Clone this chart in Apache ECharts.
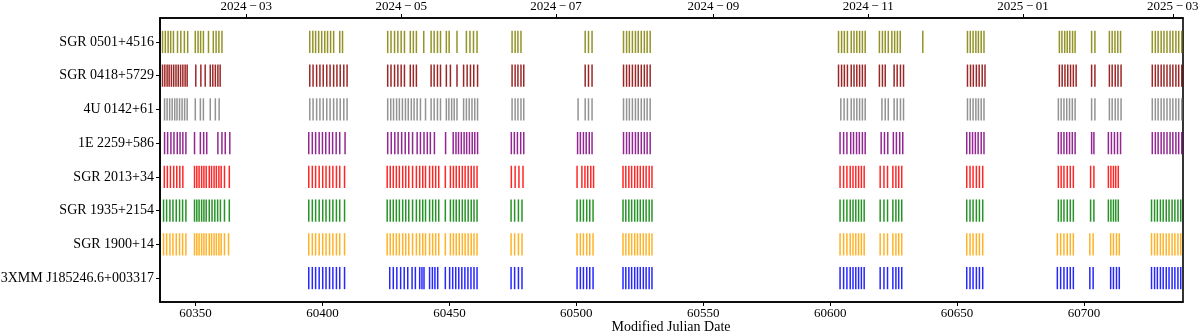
<!DOCTYPE html>
<html>
<head>
<meta charset="utf-8">
<script src="https://cdn.jsdelivr.net/npm/echarts@6/dist/echarts.min.js"></script>
<style>
  html, body { margin: 0; padding: 0; background: #fff; }
  #chart { width: 1200px; height: 334px; }
</style>
</head>
<body>
<div id="chart"></div>
<script>
// sources, top row first
const sources = ["SGR 0501+4516", "SGR 0418+5729", "4U 0142+61", "1E 2259+586",
  "SGR 2013+34", "SGR 1935+2154", "SGR 1900+14", "3XMM J185246.6+003317"];

const sgr0501 = [60337.0, 60338.1, 60339.2, 60340.2, 60341.3, 60342.9, 60344.2, 60345.6, 60346.9, 60349.9, 60351.0, 60352.0, 60353.1, 60355.1, 60357.0, 60358.1, 60359.2, 60360.4,
  60395.0, 60396.2, 60397.3, 60398.5, 60399.7, 60400.9, 60402.0, 60403.2, 60404.4, 60406.8, 60407.9,
  60425.7, 60427.0, 60428.4, 60429.7, 60431.0, 60432.3, 60434.6, 60435.8, 60437.0, 60439.9, 60442.8, 60444.0, 60445.3, 60446.5, 60448.8, 60449.9, 60453.0, 60456.7, 60458.1, 60459.5, 60460.9,
  60474.7, 60475.9, 60477.0, 60478.2, 60503.5, 60504.8, 60506.2,
  60518.6, 60519.8, 60520.9, 60522.1, 60523.3, 60524.4, 60525.6, 60526.8, 60527.9, 60529.1,
  60603.3, 60604.5, 60605.6, 60606.8, 60608.3, 60609.4, 60610.5, 60611.6, 60612.7, 60613.8, 60619.4, 60620.6, 60621.7, 60622.9, 60624.3, 60625.4, 60626.5, 60627.6, 60636.5,
  60654.1, 60655.2, 60656.3, 60657.4, 60658.4, 60659.5, 60660.6,
  60690.3, 60691.3, 60692.4, 60693.4, 60694.4, 60695.5, 60696.5, 60703.0, 60704.3, 60710.0, 60711.1, 60712.2, 60713.3, 60714.4,
  60726.9, 60728.1, 60729.2, 60730.4, 60731.5, 60732.7, 60733.9, 60735.0, 60736.2, 60737.3, 60738.5];

const sgr0418 = [60337.0, 60337.9, 60338.8, 60339.6, 60340.5, 60341.4, 60342.3, 60343.2, 60344.1, 60345.0, 60345.9, 60346.7, 60350.1, 60352.1, 60353.8, 60355.8, 60356.8, 60357.8, 60358.8, 60359.7,
  60395.0, 60396.3, 60397.7, 60399.0, 60400.3, 60401.7, 60403.0, 60404.4, 60405.7, 60407.0, 60408.4, 60409.7,
  60425.7, 60427.0, 60428.4, 60429.7, 60431.0, 60432.3, 60434.6, 60435.8, 60437.0, 60442.8, 60444.0, 60445.3, 60446.5, 60448.8, 60450.4, 60453.0, 60455.6, 60457.0, 60458.3, 60459.6, 60461.1,
  60474.7, 60475.9, 60477.0, 60478.2, 60479.3, 60503.5, 60504.8, 60506.2,
  60518.6, 60519.8, 60520.9, 60522.1, 60523.3, 60524.4, 60525.6, 60526.8, 60527.9, 60529.1,
  60603.3, 60604.5, 60605.6, 60606.8, 60608.3, 60609.4, 60610.5, 60611.6, 60612.7, 60613.8, 60619.4, 60620.6, 60621.7, 60625.2, 60626.4, 60627.7, 60628.9,
  60654.1, 60655.3, 60656.4, 60657.6, 60658.7, 60659.9, 60661.0,
  60690.3, 60691.4, 60692.5, 60693.6, 60694.7, 60695.8, 60696.9, 60703.0, 60704.3, 60710.0, 60711.1, 60712.3, 60713.4, 60714.6,
  60726.9, 60728.1, 60729.2, 60730.4, 60731.5, 60732.7, 60733.9, 60735.0, 60736.2, 60737.3, 60738.5];

const u0142 = [60337.8, 60338.8, 60339.8, 60340.8, 60341.8, 60342.7, 60343.7, 60344.7, 60345.7, 60346.7, 60349.9, 60351.9, 60353.1, 60355.8, 60357.8, 60359.3,
  60395.0, 60396.3, 60397.7, 60399.0, 60400.3, 60401.7, 60403.0, 60404.4, 60405.7, 60407.0, 60408.4, 60409.7,
  60425.7, 60426.9, 60428.0, 60429.2, 60430.3, 60431.5, 60432.7, 60433.8, 60435.0, 60436.1, 60437.3, 60438.6, 60440.6, 60442.8, 60444.0, 60445.3, 60446.5,
  60448.8, 60449.8, 60450.9, 60451.9, 60453.0, 60455.6, 60456.7, 60457.8, 60458.9, 60460.0, 60461.1,
  60474.7, 60475.9, 60477.0, 60478.2, 60479.3, 60500.7, 60503.5, 60504.8, 60506.2,
  60518.6, 60519.8, 60520.9, 60522.1, 60523.3, 60524.4, 60525.6, 60526.8, 60527.9, 60529.1,
  60604.2, 60605.5, 60606.8, 60608.3, 60609.4, 60610.5, 60611.6, 60612.7, 60613.8, 60620.4, 60621.7, 60622.9, 60625.2, 60626.4, 60627.7, 60628.9,
  60654.1, 60655.2, 60656.3, 60657.4, 60658.4, 60659.5, 60660.6,
  60689.9, 60691.0, 60692.1, 60693.2, 60694.3, 60695.4, 60696.5, 60703.0, 60704.3, 60710.0, 60711.1, 60712.3, 60713.4, 60714.6,
  60726.9, 60728.1, 60729.2, 60730.4, 60731.5, 60732.7, 60733.9, 60735.0, 60736.2, 60737.3, 60738.5];

const e2259 = [60337.8, 60339.0, 60340.3, 60341.5, 60342.8, 60343.9, 60345.0, 60346.2, 60349.6, 60351.9, 60353.2, 60354.4, 60358.8, 60360.4, 60361.7, 60363.5,
  60394.6, 60396.0, 60397.3, 60398.7, 60400.0, 60401.3, 60402.7, 60404.0, 60405.4, 60406.8, 60408.9,
  60425.7, 60427.1, 60428.5, 60429.8, 60431.2, 60432.6, 60434.0, 60435.5, 60437.3, 60438.6, 60440.0, 60441.3, 60442.5, 60444.1, 60448.5,
  60451.5, 60452.6, 60453.6, 60454.7, 60455.8, 60456.8, 60457.9, 60459.0, 60460.0, 60461.1,
  60474.4, 60475.6, 60476.8, 60478.1, 60479.3, 60500.5, 60501.6, 60502.8, 60503.9, 60505.1, 60506.2,
  60518.6, 60519.8, 60520.9, 60522.1, 60523.3, 60524.4, 60525.6, 60526.8, 60527.9, 60529.1,
  60603.9, 60605.3, 60606.6, 60608.1, 60609.2, 60610.4, 60611.5, 60612.7, 60613.8, 60620.1, 60621.4, 60622.7, 60624.9, 60626.1, 60627.4, 60628.6,
  60653.8, 60655.0, 60656.1, 60657.2, 60658.3, 60659.5, 60660.6,
  60689.9, 60691.0, 60692.1, 60693.2, 60694.3, 60695.4, 60696.5, 60703.0, 60703.9, 60709.6, 60710.8, 60712.0, 60713.2, 60714.4,
  60726.9, 60728.1, 60729.2, 60730.4, 60731.5, 60732.7, 60733.9, 60735.0, 60736.2, 60737.3, 60738.5];

const sgr2013 = [60337.7, 60338.9, 60340.1, 60341.4, 60342.6, 60343.8, 60345.0, 60349.6, 60350.5, 60351.4, 60352.4, 60353.3, 60354.2,
  60355.4, 60356.3, 60357.3, 60358.2, 60359.2, 60360.1, 60361.4, 60363.3,
  60394.6, 60396.0, 60397.3, 60398.7, 60400.1, 60401.4, 60402.8, 60404.1, 60405.5, 60406.8, 60408.7,
  60425.5, 60426.7, 60427.9, 60429.1, 60430.3, 60431.6, 60432.8, 60434.0, 60435.5, 60437.0, 60438.3, 60439.5, 60440.6, 60442.2, 60443.4, 60444.6, 60445.8, 60448.4,
  60450.4, 60451.6, 60452.7, 60453.9, 60455.1, 60456.2, 60457.4, 60458.6, 60459.7, 60460.9,
  60474.4, 60475.9, 60477.4, 60479.0, 60500.3, 60502.2, 60503.4, 60504.5, 60505.7, 60506.8,
  60518.4, 60519.5, 60520.7, 60521.8, 60523.0, 60524.1, 60525.2, 60526.4, 60527.5, 60528.7, 60529.8,
  60603.9, 60605.3, 60606.6, 60607.9, 60609.0, 60610.1, 60611.2, 60612.3, 60613.4, 60619.7, 60621.2, 60622.6, 60624.7, 60625.9, 60627.0, 60628.2,
  60653.8, 60655.1, 60656.3, 60657.6, 60658.8, 60660.1,
  60689.9, 60691.0, 60692.1, 60693.4, 60694.6, 60695.8, 60702.6, 60703.9, 60709.6, 60710.6, 60711.6, 60712.5, 60713.5];

const sgr1935 = [60337.4, 60338.6, 60339.9, 60341.1, 60342.4, 60343.7, 60344.9, 60346.2, 60349.6, 60350.5, 60351.4, 60352.4, 60353.3, 60354.2,
  60355.4, 60356.5, 60357.6, 60358.7, 60359.8, 60361.4, 60363.3,
  60394.6, 60396.0, 60397.3, 60398.7, 60400.1, 60401.4, 60402.8, 60404.1, 60405.5, 60406.8, 60408.7,
  60425.5, 60426.7, 60427.9, 60429.1, 60430.3, 60431.6, 60432.8, 60434.0, 60435.5, 60437.0, 60438.3, 60439.5, 60440.6, 60442.2, 60443.4, 60444.6, 60445.8, 60448.4,
  60450.4, 60451.6, 60452.7, 60453.9, 60455.1, 60456.2, 60457.4, 60458.6, 60459.7, 60460.9,
  60474.3, 60475.7, 60477.2, 60478.6, 60500.3, 60501.6, 60502.8, 60504.1, 60505.3, 60506.6,
  60518.4, 60519.5, 60520.7, 60521.8, 60523.0, 60524.1, 60525.2, 60526.4, 60527.5, 60528.7, 60529.8,
  60603.9, 60605.3, 60606.6, 60607.9, 60609.0, 60610.1, 60611.2, 60612.3, 60613.4, 60619.7, 60621.2, 60622.6, 60624.7, 60625.9, 60627.0, 60628.2,
  60653.8, 60655.1, 60656.3, 60657.6, 60658.8, 60660.1,
  60689.9, 60691.0, 60692.1, 60693.4, 60694.6, 60695.8, 60702.6, 60703.9, 60709.6, 60710.6, 60711.6, 60712.5, 60713.5,
  60726.6, 60727.8, 60728.9, 60730.1, 60731.2, 60732.4, 60733.5, 60734.7, 60735.8, 60737.0, 60738.1];

const sgr1900 = [60337.4, 60338.6, 60339.9, 60341.1, 60342.4, 60343.7, 60344.9, 60346.2, 60349.6, 60350.5, 60351.4, 60352.4, 60353.3, 60354.2,
  60355.4, 60356.3, 60357.3, 60358.2, 60359.2, 60360.1, 60361.4, 60363.0,
  60394.6, 60396.0, 60397.3, 60398.7, 60400.1, 60401.4, 60402.8, 60404.1, 60405.5, 60406.8, 60408.7,
  60425.5, 60426.7, 60427.9, 60429.1, 60430.3, 60431.6, 60432.8, 60434.0, 60435.5, 60437.0, 60438.3, 60439.5, 60440.6, 60442.2, 60443.4, 60444.6, 60445.8, 60448.4,
  60450.4, 60451.6, 60452.7, 60453.9, 60455.1, 60456.2, 60457.4, 60458.6, 60459.7, 60460.9,
  60474.3, 60475.7, 60477.2, 60478.6, 60500.3, 60501.6, 60502.8, 60504.1, 60505.3, 60506.6,
  60518.4, 60519.5, 60520.7, 60521.8, 60523.0, 60524.1, 60525.2, 60526.4, 60527.5, 60528.7, 60529.8,
  60603.9, 60605.3, 60606.6, 60607.9, 60609.0, 60610.1, 60611.2, 60612.3, 60613.4, 60619.7, 60621.2, 60622.6, 60624.7, 60625.9, 60627.0, 60628.2,
  60653.8, 60655.1, 60656.3, 60657.6, 60658.8, 60660.1,
  60689.5, 60690.8, 60692.1, 60693.4, 60694.6, 60695.8, 60702.3, 60703.6, 60710.5, 60711.6, 60712.8, 60713.9,
  60726.6, 60727.8, 60728.9, 60730.1, 60731.2, 60732.4, 60733.5, 60734.7, 60735.8, 60737.0, 60738.1];

const xmm1852 = [60394.6, 60396.0, 60397.3, 60398.7, 60400.1, 60401.4, 60402.8, 60404.1, 60405.5, 60406.8, 60408.7,
  60426.5, 60427.9, 60429.3, 60430.8, 60432.2, 60433.6, 60435.3, 60436.6, 60438.3, 60439.2, 60440.0, 60442.2, 60443.3, 60444.3, 60445.4, 60448.4,
  60450.1, 60451.3, 60452.5, 60453.7, 60454.9, 60456.1, 60457.3, 60458.5, 60459.7, 60460.9,
  60474.3, 60475.7, 60477.2, 60478.6, 60500.3, 60501.6, 60502.8, 60504.1, 60505.3, 60506.6,
  60518.4, 60519.5, 60520.7, 60521.8, 60523.0, 60524.1, 60525.2, 60526.4, 60527.5, 60528.7, 60529.8,
  60603.9, 60605.3, 60606.6, 60607.9, 60609.0, 60610.1, 60611.2, 60612.3, 60613.4, 60619.7, 60621.2, 60622.6, 60624.7, 60625.9, 60627.0, 60628.2,
  60653.8, 60655.1, 60656.3, 60657.6, 60658.8, 60660.1,
  60689.5, 60690.8, 60692.1, 60693.4, 60694.6, 60695.8, 60702.3, 60703.6, 60710.5, 60711.6, 60712.8, 60713.9,
  60726.6, 60727.8, 60728.9, 60730.1, 60731.2, 60732.4, 60733.5, 60734.7, 60735.8, 60737.0, 60738.1];

// axis ticks
const mjdTicks = [60350, 60400, 60450, 60500, 60550, 60600, 60650, 60700];
const dateTicks = [60370, 60431, 60492, 60554, 60615, 60676, 60735];
const dateLabels = ["2024\u2009\u2212\u200903", "2024\u2009\u2212\u200905", "2024\u2009\u2212\u200907", "2024\u2009\u2212\u200909",
  "2024\u2009\u2212\u200911", "2025\u2009\u2212\u200901", "2025\u2009\u2212\u200903"];

const allTimes = [sgr0501, sgr0418, u0142, e2259, sgr2013, sgr1935, sgr1900, xmm1852];
const colors = ["#808000", "#8b0000", "#808080", "#800080", "#ff0000", "#008000", "#ffa500", "#0000ff"];

const font = "Liberation Serif";
const xMin = 60336, xMax = 60739;

let series = allTimes.map(function (times, i) {
  return {
    type: "custom",
    name: sources[i],
    xAxisIndex: 0,
    yAxisIndex: 0,
    data: times.map(t => [t, i]),
    renderItem: function (params, api) {
      let a = api.coord([api.value(0), api.value(1) - 0.33]);
      let b = api.coord([api.value(0), api.value(1) + 0.33]);
      return {
        type: "line",
        shape: { x1: a[0], y1: a[1], x2: b[0], y2: b[1] },
        style: { stroke: colors[i], lineWidth: 1.5, opacity: 0.85 }
      };
    }
  };
});

let option = {
  animation: false,
  grid: {
    left: 160, right: 17, top: 18, bottom: 32,
    outerBoundsMode: "none",
    show: true, borderColor: "#000", borderWidth: 1.6, backgroundColor: "#fff"
  },
  // x axis title, centred under the plot box
  graphic: [{
    type: "text", x: 671, y: 327,
    style: { text: "Modified Julian Date", fontFamily: font, fontSize: 14, fill: "#000", align: "center", verticalAlign: "middle" }
  }],
  xAxis: [
    {
      type: "value", position: "bottom", min: xMin, max: xMax,
      axisLine: { show: true, onZero: false, lineStyle: { color: "#000", width: 1.6 } },
      axisTick: { show: true, length: 4, lineStyle: { color: "#000" }, customValues: mjdTicks },
      axisLabel: { fontFamily: font, fontSize: 13, color: "#000", margin: 5, customValues: mjdTicks, formatter: v => String(v) },
      splitLine: { show: false }
    },
    {
      type: "value", position: "top", min: xMin, max: xMax,
      axisLine: { show: true, onZero: false, lineStyle: { color: "#000", width: 1.6 } },
      axisTick: { show: true, length: 4, lineStyle: { color: "#000" }, customValues: dateTicks },
      axisLabel: {
        fontFamily: font, fontSize: 13, color: "#000", margin: 5, customValues: dateTicks,
        formatter: v => dateLabels[dateTicks.indexOf(v)]
      },
      splitLine: { show: false }
    }
  ],
  yAxis: {
    type: "value", inverse: true, min: -0.71, max: 7.71,
    axisLine: { show: true, onZero: false, lineStyle: { color: "#000", width: 1.6 } },
    axisTick: { show: true, length: 4, lineStyle: { color: "#000" }, customValues: [0, 1, 2, 3, 4, 5, 6, 7] },
    axisLabel: {
      fontFamily: font, fontSize: 14, color: "#000", margin: 6,
      customValues: [0, 1, 2, 3, 4, 5, 6, 7],
      formatter: v => sources[Math.round(v)]
    },
    splitLine: { show: false }
  },
  series: series
};

let myChart = echarts.init(document.getElementById("chart"));
myChart.setOption(option);
</script>
</body>
</html>
